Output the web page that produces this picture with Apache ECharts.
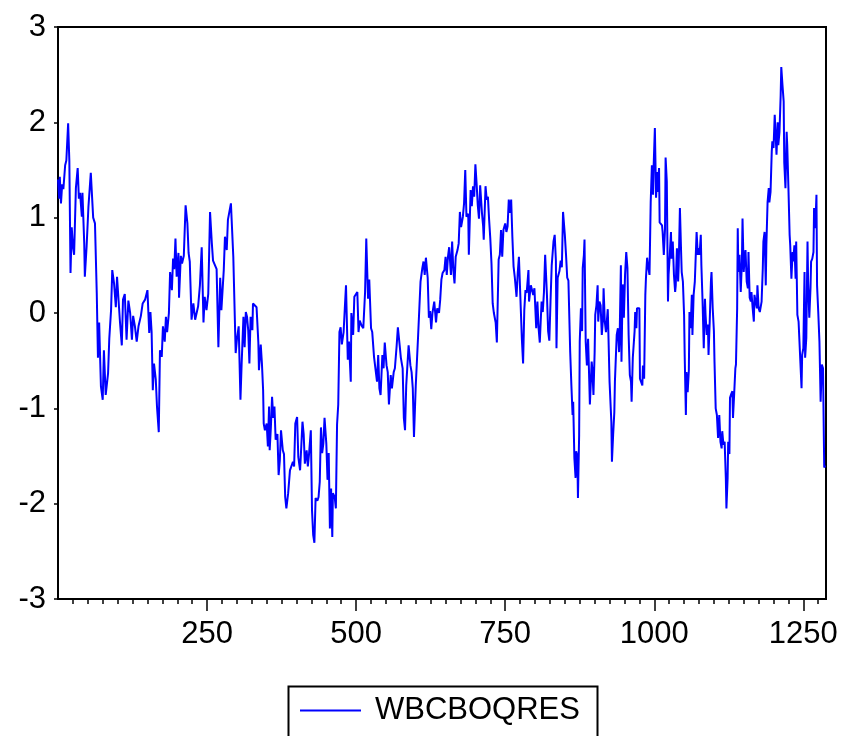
<!DOCTYPE html>
<html><head><meta charset="utf-8">
<script src="https://cdn.jsdelivr.net/npm/echarts@6/dist/echarts.min.js"></script>
<style>html,body{margin:0;padding:0;background:#fff}#c{width:842px;height:736px}</style>
</head><body><div id="c"></div>
<script>
const seriesName = 'WBCBOQRES';
const obs = [0,2,3,5,7,9,12,14,17,19,21,23,25,27,30,33,35,37,40,41,44,45,48,51,55,59,62,65,67,69,72,75,77,80,84,86,89,91,94,97,99,101,104,107,109,112,115,118,121,124,126,129,132,135,139,142,
146,150,153,155,157,159,161,164,166,169,171,174,176,179,181,183,186,188,191,193,195,197,199,202,203,206,208,211,214,217,219,221,224,227,230,232,235,238,241,244,246,249,252,255,258,260,263,266,269,272,274,278,280,283,285,288,290,294,298,300,303,306,
308,311,313,315,317,319,321,323,326,327,330,333,336,337,340,342,344,345,347,350,352,354,355,357,359,361,363,365,368,370,372,374,377,379,381,383,386,389,392,394,396,398,401,403,406,408,410,412,414,417,419,421,424,426,428,430,432,435,437,439,441,443,445,447,450,452,454,456,458,460,461,464,466,468,470,472,
474,476,479,481,483,486,488,491,492,495,497,499,502,504,506,509,512,515,517,519,520,522,525,527,530,532,535,537,539,541,544,546,548,551,553,555,558,560,563,565,568,570,573,575,578,580,582,584,586,588,591,593,595,597,600,602,604,606,608,611,613,615,617,620,622,624,626,628,631,
634,636,639,641,643,645,648,650,652,654,656,659,661,663,665,667,670,672,674,676,679,681,683,685,688,689,692,694,696,698,700,702,704,706,708,711,713,714,717,719,721,723,725,727,729,731,734,736,739,741,743,745,747,750,752,754,756,758,760,762,764,766,769,771,773,775,778,780,782,784,786,789,
790,793,795,797,799,802,804,806,808,811,813,815,817,820,822,824,826,828,831,833,835,836,838,841,843,845,847,850,852,854,856,859,861,863,864,866,868,869,871,872,874,875,877,879,880,882,883,885,887,889,891,892,895,896,898,900,901,903,905,906,908,910,912,914,915,917,919,922,923,925,928,929,931,933,934,937,939,941,942,
944,945,947,949,951,953,955,957,959,961,962,964,967,968,970,971,973,975,976,978,980,981,983,985,986,988,990,992,994,996,998,999,1001,1003,1005,1006,1008,1009,1011,1013,1014,1016,1018,1019,1021,1023,1024,1026,1028,1029,1031,1033,1035,1036,1038,1040,1041,1043,1045,1046,1048,1050,1051,1053,1054,1056,1058,1059,1061,1063,1064,1066,1068,1069,1071,1073,1074,1076,1078,1079,1081,1083,1085,1086,1088,1090,1091,1093,1095,1096,1098,1100,
1101,1103,1105,1107,1109,1111,1113,1114,1116,1118,1120,1121,1123,1124,1126,1127,1129,1131,1132,1134,1136,1137,1139,1140,1141,1143,1145,1147,1148,1150,1152,1153,1155,1157,1158,1160,1162,1163,1165,1167,1168,1170,1172,1173,1175,1177,1178,1180,1182,1183,1185,1187,1188,1190,1192,1193,1195,1197,1198,1200,1202,1203,1205,1207,1208,1210,1212,1213,1215,1217,1218,1220,1222,1223,1225,1227,1228,1230,1232,1233,1235,1237,1238,1240,1242,1243,1245,1247,1248,1250,1252,1253,1255,1257,1258,1260,1262,1263,1265,1267,1268,1270,1272,1273,1275,1277,1279,1281,1283,1285,1287];
const values = [1.40,1.20,1.43,1.15,1.35,1.30,1.55,1.60,1.99,1.60,0.42,0.90,0.70,0.61,1.31,1.52,1.20,1.26,1.01,1.26,0.73,0.38,0.70,1.11,1.47,1.00,0.94,0.21,-0.47,-0.10,-0.77,-0.91,-0.39,-0.86,-0.63,-0.27,0.03,0.45,0.31,0.06,0.38,0.40,-0.10,-0.34,0.14,0.20,-0.28,0.13,0.00,-0.28,-0.03,-0.14,-0.30,-0.14,-0.03,0.10,
0.14,0.24,-0.21,0.01,-0.20,-0.81,-0.53,-0.70,-0.98,-1.25,-0.39,-0.46,-0.14,-0.30,-0.04,-0.20,0.00,0.43,0.24,0.57,0.46,0.78,0.38,0.63,0.16,0.60,0.52,0.60,1.13,0.94,0.63,0.54,-0.07,0.10,-0.07,-0.07,0.07,0.29,0.69,-0.10,0.17,0.03,0.20,1.06,0.73,0.55,0.57,0.46,-0.36,0.37,0.03,0.45,0.80,0.66,0.98,1.00,1.15,0.59,-0.42,-0.28,-0.14,-0.91,
-0.53,-0.04,-0.36,0.01,-0.04,-0.18,-0.53,-0.04,-0.18,0.10,0.09,0.06,-0.31,-0.60,-0.33,-0.53,-0.81,-1.16,-1.23,-1.16,-1.40,-0.98,-1.44,-1.20,-0.88,-1.10,-0.98,-1.33,-1.27,-1.70,-1.55,-1.23,-1.44,-1.48,-1.93,-2.05,-1.89,-1.65,-1.65,-1.56,-1.61,-1.16,-1.09,-1.51,-1.65,-1.40,-1.14,-1.27,-1.58,-1.44,-1.61,-1.48,-1.23,-2.07,-2.33,-2.41,-1.94,-1.97,-1.93,-1.77,-1.20,-1.47,-1.37,-1.10,-1.37,-1.75,-1.47,-2.26,-1.84,-2.35,-1.89,-1.93,-2.05,-1.17,-0.96,-0.20,
-0.15,-0.33,-0.20,0.05,0.29,-0.49,-0.30,-0.72,0.00,-0.23,0.17,0.19,0.22,-0.20,-0.08,-0.13,-0.16,0.22,0.78,0.36,0.15,0.35,-0.16,-0.20,-0.46,-0.48,-0.72,-0.44,-0.79,-0.86,-0.44,-0.58,-0.31,-0.55,-0.62,-0.96,-0.65,-0.79,-0.62,-0.58,-0.34,-0.15,-0.34,-0.47,-0.58,-1.10,-1.23,-0.76,-0.55,-0.34,-0.55,-0.62,-0.79,-1.30,-0.76,-0.76,-0.23,0.05,0.33,0.47,0.54,0.40,0.58,0.37,-0.05,0.02,-0.17,0.00,0.12,
-0.10,0.05,0.00,0.14,0.35,0.42,0.45,0.59,0.40,0.59,0.69,0.40,0.75,0.45,0.31,0.59,0.66,0.73,1.06,0.90,1.01,1.15,1.50,1.01,1.04,0.61,1.29,1.12,1.33,1.22,1.56,1.36,1.13,0.99,1.34,1.05,0.91,0.77,1.33,1.19,1.22,0.98,0.78,0.52,0.10,0.00,-0.10,-0.31,0.56,0.61,0.87,0.59,0.87,0.94,0.85,0.91,1.19,1.05,1.19,0.80,0.49,0.38,0.17,0.42,0.59,0.24,-0.28,-0.53,0.03,0.24,0.21,0.45,
0.12,0.29,0.27,0.19,0.26,-0.16,0.12,-0.16,-0.31,0.12,0.01,0.22,0.61,0.19,-0.19,-0.29,0.12,0.50,0.75,0.82,0.55,-0.37,0.37,0.44,0.55,0.48,1.06,0.82,0.61,0.37,0.34,-0.41,-0.76,-1.07,-0.93,-1.52,-1.73,-1.45,-1.50,-1.94,-1.28,-0.30,0.05,-0.19,0.47,0.61,0.77,-0.30,-0.55,-0.27,-0.72,-0.96,-0.51,-0.58,-0.86,-0.41,-0.02,0.08,0.29,-0.09,0.12,0.08,-0.23,-0.06,0.26,-0.09,-0.20,0.04,-0.20,-0.72,-1.14,-1.56,-1.28,-1.04,-0.72,-0.23,-0.16,-0.41,-0.23,
0.50,-0.51,0.30,-0.05,0.40,0.64,0.47,-0.23,-0.65,-0.72,-0.93,-0.47,-0.19,0.01,-0.16,0.05,0.07,0.05,-0.69,-0.69,-0.76,-0.55,-0.69,0.19,0.36,0.58,0.47,0.40,1.16,1.55,1.24,1.55,1.94,1.21,1.48,1.27,1.52,0.95,0.95,0.92,0.85,0.61,0.88,1.63,1.38,0.12,0.40,0.61,0.85,0.57,0.75,0.40,0.22,0.29,0.68,0.33,0.50,1.10,0.64,0.43,0.33,-0.02,-0.44,-1.07,-0.62,-0.83,-0.60,0.01,-0.16,0.19,-0.23,0.19,0.33,0.50,0.85,0.61,0.68,0.61,0.82,0.50,0.12,-0.37,0.15,-0.02,-0.23,-0.12,-0.44,-0.09,0.33,0.43,0.05,-0.19,
-0.51,-1.00,-1.07,-1.31,-1.07,-1.35,-1.42,-1.24,-1.38,-1.35,-1.73,-2.05,-1.73,-1.35,-1.48,-0.89,-0.85,-0.82,-1.10,-0.85,-0.58,-0.54,0.05,0.89,0.43,0.61,0.22,0.54,0.99,0.43,0.61,0.66,0.33,0.26,0.64,0.16,0.12,0.22,0.05,-0.09,0.19,0.12,0.05,0.29,0.05,0.01,0.01,0.12,0.47,0.75,0.85,0.29,0.71,1.16,1.31,1.16,1.27,1.69,1.80,1.73,2.08,1.94,1.66,2.00,1.76,1.90,2.29,2.58,2.39,2.22,1.58,1.31,1.90,1.76,1.31,0.82,0.71,0.36,0.64,0.54,0.71,0.36,0.75,-0.02,-0.09,-0.09,-0.09,-0.79,-0.44,-0.37,0.43,-0.47,-0.26,0.75,0.33,-0.05,0.26,0.54,0.57,0.64,1.10,0.89,1.24,0.29,0.01,-0.30,-0.93,-0.54,-0.58,-1.62,-1.60];
const xTickLabels = [250, 500, 750, 1000, 1250];
const yTickLabels = [-3, -2, -1, 0, 1, 2, 3];

const font = '"Liberation Sans", Arial, sans-serif';
const data = obs.map((o, i) => [o, values[i]]);
const chart = echarts.init(document.getElementById('c'), null, {renderer: 'canvas'});
chart.setOption({
  animation: false,
  backgroundColor: '#fff',
  grid: {left: 58, top: 27, width: 768, height: 572, show: true, borderColor: '#000', borderWidth: 2, containLabel: false},
  xAxis: {
    type: 'value', min: 0, max: 1288, interval: 250,
    axisLine: {show: false, onZero: false}, splitLine: {show: false},
    axisTick: {show: true, customValues: xTickLabels, length: 12, lineStyle: {color: '#000', width: 1.5}},
    minorTick: {show: true, splitNumber: 10, length: 5, lineStyle: {color: '#000', width: 1.5}},
    axisLabel: {customValues: xTickLabels, fontSize: 31, color: '#000', fontFamily: font, margin: 20,
      formatter: v => String(v)}
  },
  yAxis: {
    type: 'value', min: yTickLabels[0], max: yTickLabels[yTickLabels.length - 1], interval: 1,
    axisLine: {show: false, onZero: false}, splitLine: {show: false},
    axisTick: {show: true, length: 4, lineStyle: {color: '#000', width: 1.5}},
    axisLabel: {fontSize: 31, color: '#000', fontFamily: font, margin: 12, formatter: v => String(v)}
  },
  legend: {
    left: 300, top: 695, padding: 0, itemWidth: 61, itemHeight: 2,
    textStyle: {fontSize: 31, color: '#000', fontFamily: font, padding: [0, 0, 0, 9]},
    data: [{name: seriesName, icon: 'rect', itemStyle: {color: '#0000ff'}}]
  },
  graphic: [{type: 'rect', left: 286, top: 684, shape: {width: 309, height: 80},
    style: {fill: 'none', stroke: '#000', lineWidth: 2}, silent: true}],
  series: [{
    type: 'line', name: seriesName, data: data, symbol: 'none', showSymbol: false,
    lineStyle: {color: '#0000ff', width: 2}, itemStyle: {color: '#0000ff'}
  }]
});
</script>
</body></html>
